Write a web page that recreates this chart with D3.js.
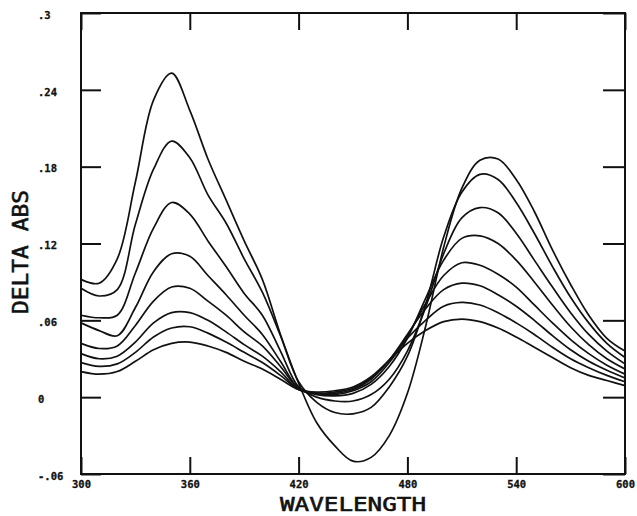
<!DOCTYPE html>
<html>
<head>
<meta charset="utf-8">
<script src="https://cdn.jsdelivr.net/npm/d3@7"></script>
<style>
  body { margin: 0; background: #fff; }
  svg { display: block; }
  .tick text { font-family: "DejaVu Sans Mono", monospace; font-weight: bold; font-size: 10.5px; fill: #111; stroke: #111; stroke-width: 0.3px; }
  .title { font-family: "DejaVu Sans Mono", monospace; fill: #111; stroke: #111; stroke-width: 0.6px; }
</style>
</head>
<body>
<div id="chart"></div>
<script>
// wavelength grid (nm)
const wavelengths = [300,310,320,330,340,350,360,370,380,390,400,410,420,430,440,450,460,470,480,490,500,510,520,530,540,550,560,570,580,590,600];

// delta absorbance, one array per trace (largest first)
const trace1 = [0.092,0.089,0.108,0.168,0.232,0.253,0.224,0.186,0.154,0.122,0.092,0.049,0.011,-0.020,-0.038,-0.050,-0.047,-0.030,0.003,0.055,0.117,0.163,0.185,0.186,0.170,0.145,0.115,0.088,0.064,0.046,0.036];
const trace2 = [0.085,0.079,0.084,0.135,0.178,0.200,0.187,0.158,0.136,0.108,0.082,0.048,0.012,-0.004,-0.012,-0.013,-0.008,0.008,0.032,0.072,0.125,0.160,0.174,0.170,0.152,0.128,0.102,0.078,0.058,0.042,0.031];
const trace3 = [0.064,0.062,0.064,0.097,0.132,0.152,0.143,0.122,0.102,0.081,0.064,0.036,0.008,0.000,-0.003,-0.003,0.002,0.014,0.036,0.070,0.112,0.140,0.148,0.144,0.128,0.107,0.086,0.066,0.049,0.036,0.026];
const trace4 = [0.058,0.052,0.048,0.070,0.098,0.112,0.110,0.095,0.080,0.064,0.049,0.028,0.007,0.002,0.001,0.003,0.010,0.024,0.046,0.077,0.107,0.124,0.126,0.120,0.107,0.090,0.072,0.055,0.041,0.030,0.022];
const trace5 = [0.042,0.038,0.040,0.056,0.075,0.086,0.085,0.075,0.064,0.051,0.040,0.024,0.007,0.003,0.002,0.005,0.012,0.027,0.048,0.073,0.095,0.105,0.103,0.096,0.086,0.072,0.058,0.045,0.034,0.025,0.018];
const trace6 = [0.034,0.030,0.032,0.043,0.058,0.066,0.066,0.060,0.051,0.041,0.032,0.020,0.006,0.003,0.003,0.006,0.014,0.029,0.049,0.069,0.084,0.089,0.087,0.080,0.071,0.060,0.048,0.037,0.028,0.021,0.015];
const trace7 = [0.027,0.024,0.026,0.035,0.047,0.054,0.055,0.050,0.043,0.035,0.027,0.017,0.006,0.003,0.004,0.007,0.015,0.029,0.046,0.060,0.071,0.074,0.072,0.066,0.058,0.049,0.039,0.030,0.023,0.017,0.012];
const trace8 = [0.020,0.018,0.020,0.028,0.037,0.042,0.043,0.040,0.035,0.028,0.022,0.014,0.006,0.004,0.005,0.008,0.016,0.029,0.042,0.052,0.059,0.061,0.059,0.054,0.047,0.039,0.031,0.023,0.017,0.013,0.009];
const traces = [trace1, trace2, trace3, trace4, trace5, trace6, trace7, trace8];

// tick values and their printed labels
const xTicks = [300,360,420,480,540,600];
const xTickLabels = ["300","360","420","480","540","600"];
const yTicks = [-0.06,0,0.06,0.12,0.18,0.24,0.3];
const yTickLabels = ["-.06","0",".06",".12",".18",".24",".3"];

const width = 637, height = 516;
const plotLeft = 81, plotRight = 625, plotTop = 13, plotBottom = 474;

const svg = d3.select('#chart').append('svg')
    .attr('width', width)
    .attr('height', height);

const x = d3.scaleLinear().domain([300, 600]).range([plotLeft, plotRight]);
const y = d3.scaleLinear().domain([-0.06, 0.3]).range([plotBottom, plotTop]);

// curves
const line = d3.line()
    .x((d, i) => x(wavelengths[i]))
    .y(d => y(d))
    .curve(d3.curveCatmullRom.alpha(0.5));

svg.append('g').selectAll('path')
    .data(traces)
    .join('path')
    .attr('d', line)
    .attr('fill', 'none')
    .attr('stroke', '#111')
    .attr('stroke-width', 1.7)
    .attr('stroke-linejoin', 'round');

// axes: ticks point inward
const xLabel = d => xTickLabels[xTicks.indexOf(d)];
const yLabel = d => yTickLabels[yTicks.indexOf(d)];

const gBottom = svg.append('g')
    .attr('transform', `translate(0,${plotBottom})`)
    .call(d3.axisBottom(x).tickValues(xTicks).tickFormat(xLabel).tickSize(-17).tickPadding(0));
gBottom.selectAll('text').attr('y', 7);

svg.append('g')
    .attr('transform', `translate(0,${plotTop})`)
    .call(d3.axisTop(x).tickValues(xTicks).tickFormat('').tickSize(-17));

const gLeft = svg.append('g')
    .attr('transform', `translate(${plotLeft},0)`)
    .call(d3.axisLeft(y).tickValues(yTicks).tickFormat(yLabel).tickSize(-20));
gLeft.selectAll('text')
    .attr('x', -43)
    .attr('dy', '0.5em')
    .attr('text-anchor', 'start');

svg.append('g')
    .attr('transform', `translate(${plotRight},0)`)
    .call(d3.axisRight(y).tickValues(yTicks).tickFormat('').tickSize(-22));

svg.selectAll('.domain').remove();
svg.selectAll('.tick line').attr('stroke', '#111').attr('stroke-width', 2);

// frame
svg.append('rect')
    .attr('x', plotLeft).attr('y', plotTop)
    .attr('width', plotRight - plotLeft).attr('height', plotBottom - plotTop)
    .attr('fill', 'none')
    .attr('stroke', '#111')
    .attr('stroke-width', 2);

// axis titles
svg.append('text')
    .attr('class', 'title')
    .attr('x', 280).attr('y', 511)
    .attr('textLength', 146)
    .attr('lengthAdjust', 'spacingAndGlyphs')
    .style('font-size', '20px')
    .text('WAVELENGTH');

svg.append('text')
    .attr('class', 'title')
    .attr('transform', 'translate(28,314) rotate(-90)')
    .attr('textLength', 124)
    .attr('lengthAdjust', 'spacingAndGlyphs')
    .style('font-size', '21px')
    .text('DELTA ABS');
</script>
</body>
</html>
